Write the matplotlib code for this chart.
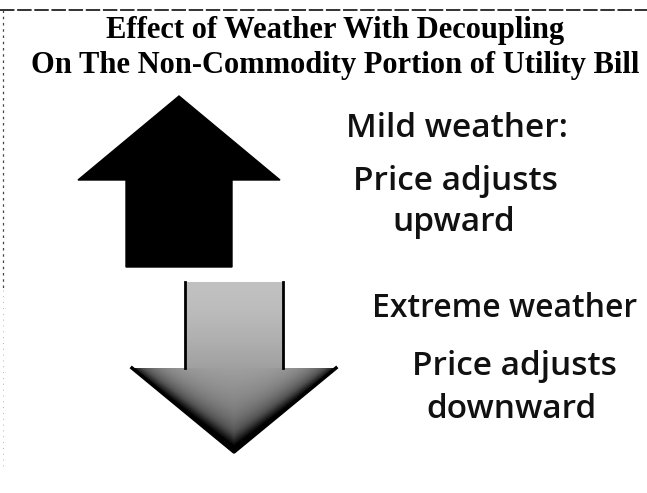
import numpy as np
import matplotlib.pyplot as plt
from matplotlib.patches import Polygon

W, H = 647, 493

title_lines = ["Effect of Weather With Decoupling",
               "On The Non-Commodity Portion of Utility Bill"]
title_base = [38, 73]

# arrows: (tip x, tip y, head base y, head half width, shaft half width, shaft end y)
up_arrow = (179, 96, 180, 101, 53, 267)
down_arrow = (234, 452, 368, 102, 49, 282)

labels = ["Mild weather:", "Price adjusts", "upward",
          "Extreme weather", "Price adjusts", "downward"]
label_pos = [(457, 137), (455, 190), (454, 231),
             (505, 317), (514, 375), (512, 418)]
label_size = [24, 24, 24, 23, 24, 24]


def arrow_pts(tx, ty, by, hw, sw, ey):
    return [(tx, ty), (tx + hw, by), (tx + sw, by), (tx + sw, ey),
            (tx - sw, ey), (tx - sw, by), (tx - hw, by)]


fig = plt.figure(figsize=(W / 100, H / 100), dpi=100)
ax = fig.add_axes([0, 0, 1, 1])
ax.set_xlim(0, W)
ax.set_ylim(H, 0)
ax.axis("off")

# scan border remnants
ax.plot([0, W], [10, 10], color="#222222", lw=1.3, ls=(0, (8, 1.5)))
ax.plot([3, 3], [10, 290], color="#444444", lw=0.9, ls=(0, (2, 3)))
ax.plot([3, 3], [290, 470], color="#999999", lw=0.6, ls=(0, (1, 6)))

for t, yb in zip(title_lines, title_base):
    ax.text(W / 2 + 12, yb, t, ha="center", va="baseline",
            fontsize=22, fontweight="bold", family="Liberation Serif")

ax.add_patch(Polygon(arrow_pts(*up_arrow), closed=True,
                     facecolor="black", edgecolor="black", lw=1))

# down arrow: grey shading, darker toward the tip and the slanted edges
tx, ty, by, hw, sw, ey = down_arrow
poly = Polygon(arrow_pts(*down_arrow), closed=True,
               facecolor="none", edgecolor="none")
ax.add_patch(poly)
xs = np.linspace(tx - hw, tx + hw, 220)
ys = np.linspace(ey, ty, 180)
gx, gy = np.meshgrid(xs, ys)
vert = (gy - ey) / (ty - ey)
slope = (ty - by) / hw
d_edge = np.abs((gy - by) - slope * (hw - np.abs(gx - tx))) / np.hypot(1, slope)
shade = 0.36 + 0.3 * vert ** 1.5 + 0.5 * np.exp(-d_edge / 12) * (gy > by)
shade = np.clip(shade, 0, 1)
img = ax.imshow(shade, cmap="Greys", vmin=0, vmax=1,
                extent=(tx - hw, tx + hw, ty, ey), aspect="auto",
                interpolation="bilinear")
img.set_clip_path(poly)
ax.plot([tx - sw, tx - sw], [ey, by], color="black", lw=2)
ax.plot([tx + sw, tx + sw], [ey, by], color="black", lw=2)
ax.plot([tx - hw, tx, tx + hw], [by, ty, by], color="black", lw=2.5)
ax.set_xlim(0, W)
ax.set_ylim(H, 0)

for t, (x, y), fs in zip(labels, label_pos, label_size):
    ax.text(x, y, t, ha="center", va="baseline", fontsize=fs,
            family="Open Sans", fontweight="semibold", color="#111111")

fig.savefig("out.png", dpi=100, facecolor="white")
